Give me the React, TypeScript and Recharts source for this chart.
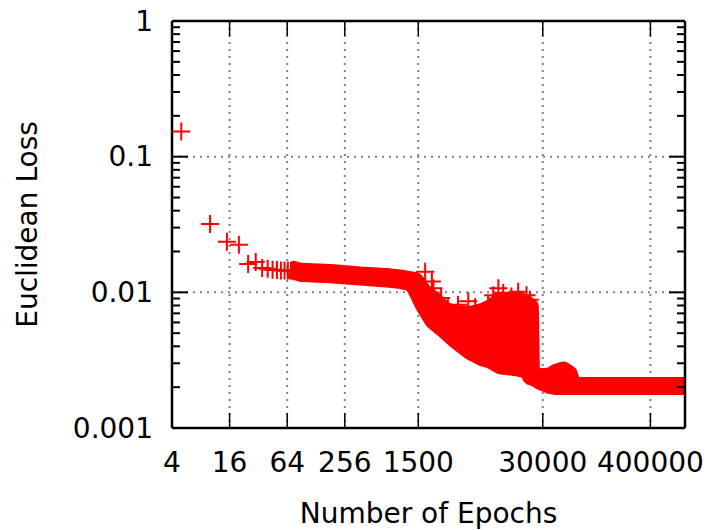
import React from 'react';
import { ComposedChart, Area, Scatter, XAxis, YAxis, CartesianGrid, Label } from 'recharts';

// axis ticks
const xTicks = [4, 16, 64, 256, 1500, 30000, 400000];
const xGrid = [16, 64, 256, 1500, 30000, 400000];
const yMajor = [0.001, 0.01, 0.1, 1];
const yTickLabels = ['0.001', '0.01', '0.1', '1'];
const yMinor = [
  0.002, 0.003, 0.004, 0.005, 0.006, 0.007, 0.008, 0.009,
  0.02, 0.03, 0.04, 0.05, 0.06, 0.07, 0.08, 0.09,
  0.2, 0.3, 0.4, 0.5, 0.6, 0.7, 0.8, 0.9,
];
const yGrid = [0.01, 0.1];
const X_MIN = 4;
const X_MAX = 920000;
const Y_MIN = 0.001;
const Y_MAX = 1;

// early, sparse log points (every 5 epochs)
const sparseEpochs = [5, 10, 15, 20, 25, 30, 35, 40, 45, 50, 55, 60, 65, 70, 75, 80];
const sparseLoss = [0.153, 0.0319, 0.0236, 0.0224, 0.0162, 0.0167, 0.0151, 0.0149, 0.0147, 0.0146, 0.0145, 0.0145, 0.0144, 0.0144, 0.0143, 0.0143];

// outliers sticking above the dense cloud
const spikeEpochs = [1770, 2080, 2160, 2600, 3060, 3900, 5000, 5900, 8050, 9100, 10300, 11600, 14100, 16600, 20300, 22000];
const spikeLoss = [0.0142, 0.012, 0.0107, 0.0091, 0.0078, 0.0081, 0.0086, 0.0078, 0.0081, 0.0095, 0.0107, 0.0099, 0.0093, 0.0101, 0.0095, 0.0088];

// dense cloud: min / max loss per epoch
const bandEpochs = [85, 90, 180, 370, 760, 1000, 1230, 1390, 1700, 2160, 2750, 3800, 5240, 7200, 8500, 10800, 16100, 20000, 22000, 22600, 26000, 28300, 36000, 41600, 49200, 56000, 60000, 63000, 120000, 400000, 900000];
const bandHi = [0.0143, 0.0142, 0.0139, 0.0133, 0.0129, 0.0126, 0.0123, 0.0121, 0.01, 0.0088, 0.0074, 0.0068, 0.0068, 0.0072, 0.0076, 0.0086, 0.0088, 0.0082, 0.0078, 0.0024, 0.00238, 0.00237, 0.0024, 0.00255, 0.00265, 0.0025, 0.00215, 0.00204, 0.00204, 0.00204, 0.00204];
const bandLo = [0.0141, 0.0139, 0.0136, 0.0131, 0.0126, 0.0123, 0.0119, 0.011, 0.0082, 0.0062, 0.0054, 0.0044, 0.0037, 0.0033, 0.0032, 0.0029, 0.0028, 0.0027, 0.00255, 0.00245, 0.00232, 0.00222, 0.00207, 0.00204, 0.00204, 0.00204, 0.00204, 0.00204, 0.00204, 0.00204, 0.00204];

const bandData = bandEpochs.map((epoch, i) => ({ epoch, band: [bandLo[i], bandHi[i]] }));
const sparseData = sparseEpochs.map((epoch, i) => ({ epoch, loss: sparseLoss[i] }));
const spikeData = spikeEpochs.map((epoch, i) => ({ epoch, loss: spikeLoss[i] }));

const yTicksAll = [...yMajor, ...yMinor];
// inward tick marks (gnuplot style), placed through the chart scales
const leftTickData = yTicksAll.map((v) => ({ epoch: X_MIN, loss: v }));
const rightTickData = yTicksAll.map((v) => ({ epoch: X_MAX, loss: v }));
const bottomTickData = xGrid.map((v) => ({ epoch: v, loss: Y_MIN }));
const topTickData = xGrid.map((v) => ({ epoch: v, loss: Y_MAX }));

const RED = '#ff0000';
const FONT = 'DejaVu Sans';

const Plus = (props: any) => {
  const { cx, cy } = props;
  if (cx == null || cy == null) return null;
  return (
    <path
      d={`M${cx - 9},${cy}H${cx + 9}M${cx},${cy - 9}V${cy + 9}`}
      stroke={RED}
      strokeWidth={2}
      fill="none"
    />
  );
};

const isMajor = (v: number) => yMajor.indexOf(v) >= 0;

const makeYTick = (dir: number) => (props: any) => {
  const { cx, cy, payload } = props;
  if (cx == null || cy == null) return null;
  const len = isMajor(payload && payload.loss) ? 16 : 8;
  return <path d={`M${cx},${cy}H${cx + dir * len}`} stroke="#000" strokeWidth={2} fill="none" />;
};

const makeXTick = (dir: number) => (props: any) => {
  const { cx, cy } = props;
  if (cx == null || cy == null) return null;
  return <path d={`M${cx},${cy}V${cy + dir * 15}`} stroke="#000" strokeWidth={1.5} fill="none" />;
};

const LeftTickMark = makeYTick(1);
const RightTickMark = makeYTick(-1);
const BottomTickMark = makeXTick(-1);
const TopTickMark = makeXTick(1);

const BottomTick = (props: any) => {
  const { x, y, payload } = props;
  return (
    <text x={x} y={y + 34} dy="0.35em" textAnchor="middle" fontFamily={FONT} fontSize={28} fill="#000">
      {payload.value}
    </text>
  );
};

const LeftTick = (props: any) => {
  const { x, y, payload } = props;
  const idx = yMajor.indexOf(payload.value);
  if (idx < 0) return <g />;
  return (
    <text x={x - 19} y={y} dy="0.35em" textAnchor="end" fontFamily={FONT} fontSize={28} fill="#000">
      {yTickLabels[idx]}
    </text>
  );
};

const axisLine = { stroke: '#000', strokeWidth: 2.5 };

export default function App() {
  return (
    <div style={{ position: 'absolute', left: 0, top: 0, background: '#fff' }}>
      <ComposedChart width={707} height={530} data={bandData} margin={{ top: 0, right: 0, bottom: 0, left: 0 }}>
        <CartesianGrid
          horizontalValues={yGrid}
          verticalValues={xGrid}
          stroke="#808080"
          strokeWidth={2}
          strokeDasharray="2 5"
          fill="none"
        />
        <XAxis
          dataKey="epoch"
          type="number"
          scale="log"
          domain={[X_MIN, X_MAX]}
          allowDataOverflow
          ticks={xTicks}
          interval={0}
          height={102}
          tickSize={0}
          tickMargin={0}
          tickLine={false}
          tick={BottomTick}
          axisLine={axisLine}
        >
          <Label
            content={(p: any) => {
              const vb = p.viewBox;
              return (
                <text
                  x={vb.x + vb.width / 2}
                  y={vb.y + 85}
                  dy="0.35em"
                  textAnchor="middle"
                  fontFamily={FONT}
                  fontSize={28}
                  fill="#000"
                >
                  Number of Epochs
                </text>
              );
            }}
          />
        </XAxis>
        <XAxis
          xAxisId="top"
          orientation="top"
          dataKey="epoch"
          type="number"
          scale="log"
          domain={[X_MIN, X_MAX]}
          allowDataOverflow
          ticks={xTicks}
          height={21}
          tick={false}
          tickLine={false}
          axisLine={axisLine}
        />
        <YAxis
          type="number"
          scale="log"
          domain={[Y_MIN, Y_MAX]}
          allowDataOverflow
          ticks={yTicksAll}
          interval={0}
          width={172}
          tickSize={0}
          tickMargin={0}
          tickLine={false}
          tick={LeftTick}
          axisLine={axisLine}
        >
          <Label
            content={(p: any) => {
              const vb = p.viewBox;
              const cx = vb.x + 27;
              const cy = vb.y + vb.height / 2;
              return (
                <text
                  x={cx}
                  y={cy}
                  dy="0.35em"
                  transform={`rotate(-90 ${cx} ${cy})`}
                  textAnchor="middle"
                  fontFamily={FONT}
                  fontSize={28}
                  fill="#000"
                >
                  Euclidean Loss
                </text>
              );
            }}
          />
        </YAxis>
        <YAxis
          yAxisId="right"
          orientation="right"
          type="number"
          scale="log"
          domain={[Y_MIN, Y_MAX]}
          allowDataOverflow
          ticks={yMajor}
          width={22}
          tick={false}
          tickLine={false}
          axisLine={axisLine}
        />
        <Scatter data={leftTickData} dataKey="loss" shape={LeftTickMark} isAnimationActive={false} legendType="none" />
        <Scatter data={rightTickData} dataKey="loss" shape={RightTickMark} isAnimationActive={false} legendType="none" />
        <Scatter data={bottomTickData} dataKey="loss" shape={BottomTickMark} isAnimationActive={false} legendType="none" />
        <Scatter data={topTickData} dataKey="loss" shape={TopTickMark} isAnimationActive={false} legendType="none" />
        <Area
          dataKey="band"
          type="linear"
          fill={RED}
          fillOpacity={1}
          stroke={RED}
          strokeWidth={18}
          strokeLinejoin="round"
          strokeLinecap="square"
          dot={false}
          activeDot={false}
          isAnimationActive={false}
        />
        <Scatter data={sparseData} dataKey="loss" shape={Plus} isAnimationActive={false} />
        <Scatter data={spikeData} dataKey="loss" shape={Plus} isAnimationActive={false} />
      </ComposedChart>
    </div>
  );
}
